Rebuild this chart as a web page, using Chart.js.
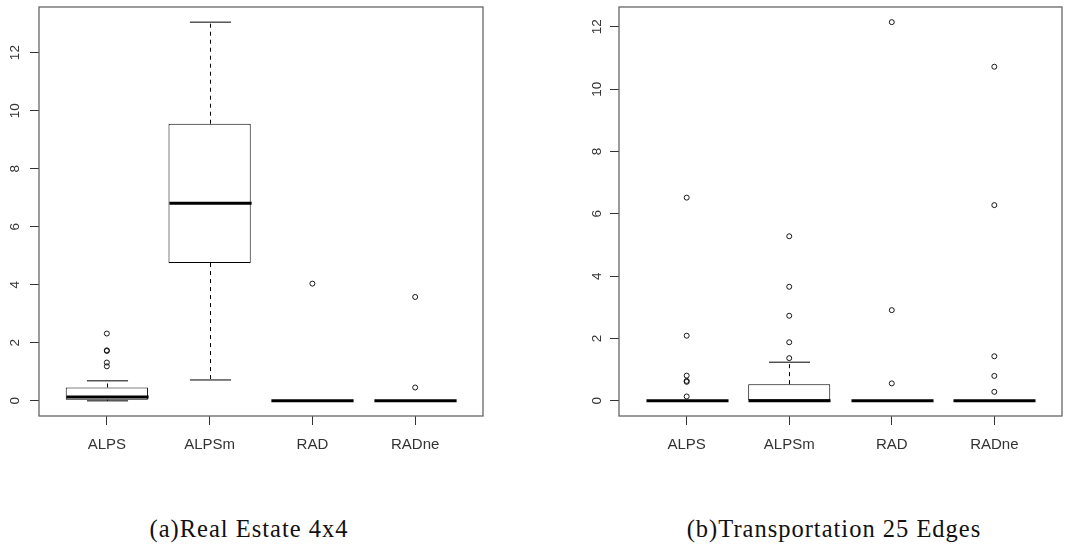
<!DOCTYPE html>
<html>
<head>
<meta charset="utf-8">
<script src="https://cdn.jsdelivr.net/npm/chart.js@4.4.1/dist/chart.umd.min.js"></script>
<style>
  body { margin: 0; background: #fff; width: 1075px; height: 545px; position: relative; overflow: hidden; }
  canvas { position: absolute; top: 0; }
  #chartA { left: 0; }
  #chartB { left: 540px; }
  .cap { position: absolute; top: 516.5px; font-family: "Liberation Serif", serif; font-size: 24.5px;
         line-height: 24.5px; letter-spacing: 1px; white-space: nowrap; color: #111; transform: translateX(-50%); }
</style>
</head>
<body>
<canvas id="chartA" width="540" height="460"></canvas>
<canvas id="chartB" width="535" height="460"></canvas>
<div class="cap" style="left:249px">(a)Real Estate 4x4</div>
<div class="cap" style="left:834px">(b)Transportation 25 Edges</div>
<script>
const categories = ['ALPS', 'ALPSm', 'RAD', 'RADne'];
const yTicks = [0, 2, 4, 6, 8, 10, 12];

// (a) Real Estate 4x4
const reLow  = [0, 0.72, 0, 0];
const reQ1   = [0.035, 4.75, 0, 0];
const reMed  = [0.13, 6.81, 0, 0];
const reQ3   = [0.46, 9.55, 0, 0];
const reHigh = [0.69, 13.05, 0, 0];
const reOut  = [[2.32, 1.74, 1.72, 1.32, 1.19], [], [4.04], [3.58, 0.46]];

// (b) Transportation 25 Edges
const trLow  = [0, 0, 0, 0];
const trQ1   = [0, 0, 0, 0];
const trMed  = [0, 0, 0, 0];
const trQ3   = [0, 0.535, 0, 0];
const trHigh = [0, 1.24, 0, 0];
const trOut  = [[6.52, 2.09, 0.81, 0.64, 0.61, 0.14], [5.28, 3.66, 2.73, 1.88, 1.37], [12.15, 2.91, 0.56], [10.72, 6.28, 1.43, 0.80, 0.29]];

// whiskers, staples, medians and the plot frame
function boxExtras(st) {
  return {
    id: 'boxExtras',
    afterDatasetsDraw(chart) {
      const {ctx, chartArea: a, scales: {x, y}} = chart;
      const half = x.getPixelForValue(1.4) - x.getPixelForValue(1);
      const seg = (x1, y1, x2, y2) => { ctx.beginPath(); ctx.moveTo(x1, y1); ctx.lineTo(x2, y2); ctx.stroke(); };
      ctx.save();
      ctx.strokeStyle = '#000';
      st.med.forEach((m, i) => {
        const cx = Math.round(x.getPixelForValue(i + 1)) + 0.5;
        const yq1 = y.getPixelForValue(st.q1[i]), yq3 = y.getPixelForValue(st.q3[i]);
        const ylo = y.getPixelForValue(st.lo[i]), yhi = y.getPixelForValue(st.hi[i]);
        ctx.lineWidth = 1;
        ctx.setLineDash([4, 4]);
        seg(cx, yq3, cx, yhi);
        seg(cx, yq1, cx, ylo);
        ctx.setLineDash([]);
        seg(cx - half / 2, yhi, cx + half / 2, yhi);
        seg(cx - half / 2, ylo, cx + half / 2, ylo);
        ctx.lineWidth = 3;
        const ym = y.getPixelForValue(m);
        seg(cx - half, ym, cx + half, ym);
      });
      ctx.strokeStyle = '#666';
      ctx.lineWidth = 1.3;
      ctx.strokeRect(a.left, a.top, a.width, a.height);
      ctx.restore();
    }
  };
}

function makeChart(id, st, out, axisW, padRight, labelPad) {
  const all = out.flat().concat(st.hi, st.lo);
  const dmin = Math.min(...all), dmax = Math.max(...all);
  const ext = (dmax - dmin) * 0.04;
  const points = [];
  out.forEach((vals, i) => vals.forEach(v => points.push({x: i + 1, y: v})));
  new Chart(document.getElementById(id), {
    type: 'bar',
    data: {
      datasets: [
        {
          type: 'bar',
          data: categories.map((c, i) => ({x: i + 1, y: [st.q1[i], st.q3[i]]})),
          backgroundColor: '#fff',
          borderColor: '#000',
          borderWidth: 1,
          borderSkipped: false,
          categoryPercentage: 1,
          barPercentage: 0.8,
          order: 2
        },
        {
          type: 'scatter',
          data: points,
          pointStyle: 'circle',
          pointRadius: 2.5,
          borderColor: '#000',
          borderWidth: 0.9,
          backgroundColor: 'rgba(0,0,0,0)',
          order: 1
        }
      ]
    },
    options: {
      responsive: false,
      animation: false,
      layout: {padding: {top: 7, right: padRight, left: 0, bottom: 0}},
      plugins: {legend: {display: false}, tooltip: {enabled: false}},
      scales: {
        x: {
          type: 'linear',
          offset: false,
          min: 0.34, max: 4.66,
          afterBuildTicks: s => { s.ticks = categories.map((c, i) => ({value: i + 1})); },
          afterFit: s => { s.height = 44; s.paddingLeft = 0; s.paddingRight = 0; },
          grid: {offset: false, drawOnChartArea: false, drawTicks: true, tickLength: 9, color: '#333'},
          border: {display: false},
          ticks: {
            callback: v => categories[v - 1],
            font: {family: 'Liberation Sans', size: 15},
            color: '#333',
            padding: 11,
            maxRotation: 0
          }
        },
        y: {
          type: 'linear',
          min: dmin - ext, max: dmax + ext,
          afterBuildTicks: s => { s.ticks = yTicks.map(v => ({value: v})); },
          afterFit: s => { s.width = axisW; s.paddingTop = 0; s.paddingBottom = 0; },
          grid: {drawOnChartArea: false, drawTicks: true, tickLength: 9, color: '#333'},
          border: {display: false},
          ticks: {
            minRotation: 90, maxRotation: 90,
            crossAlign: 'center',
            font: {family: 'Liberation Sans', size: 13.5},
            color: '#333',
            padding: labelPad
          }
        }
      }
    },
    plugins: [boxExtras(st)]
  });
}

makeChart('chartA', {lo: reLow, q1: reQ1, med: reMed, q3: reQ3, hi: reHigh}, reOut, 39, 57, 7.5);
makeChart('chartB', {lo: trLow, q1: trQ1, med: trMed, q3: trQ3, hi: trHigh}, trOut, 79, 13, 5.5);
</script>
</body>
</html>
